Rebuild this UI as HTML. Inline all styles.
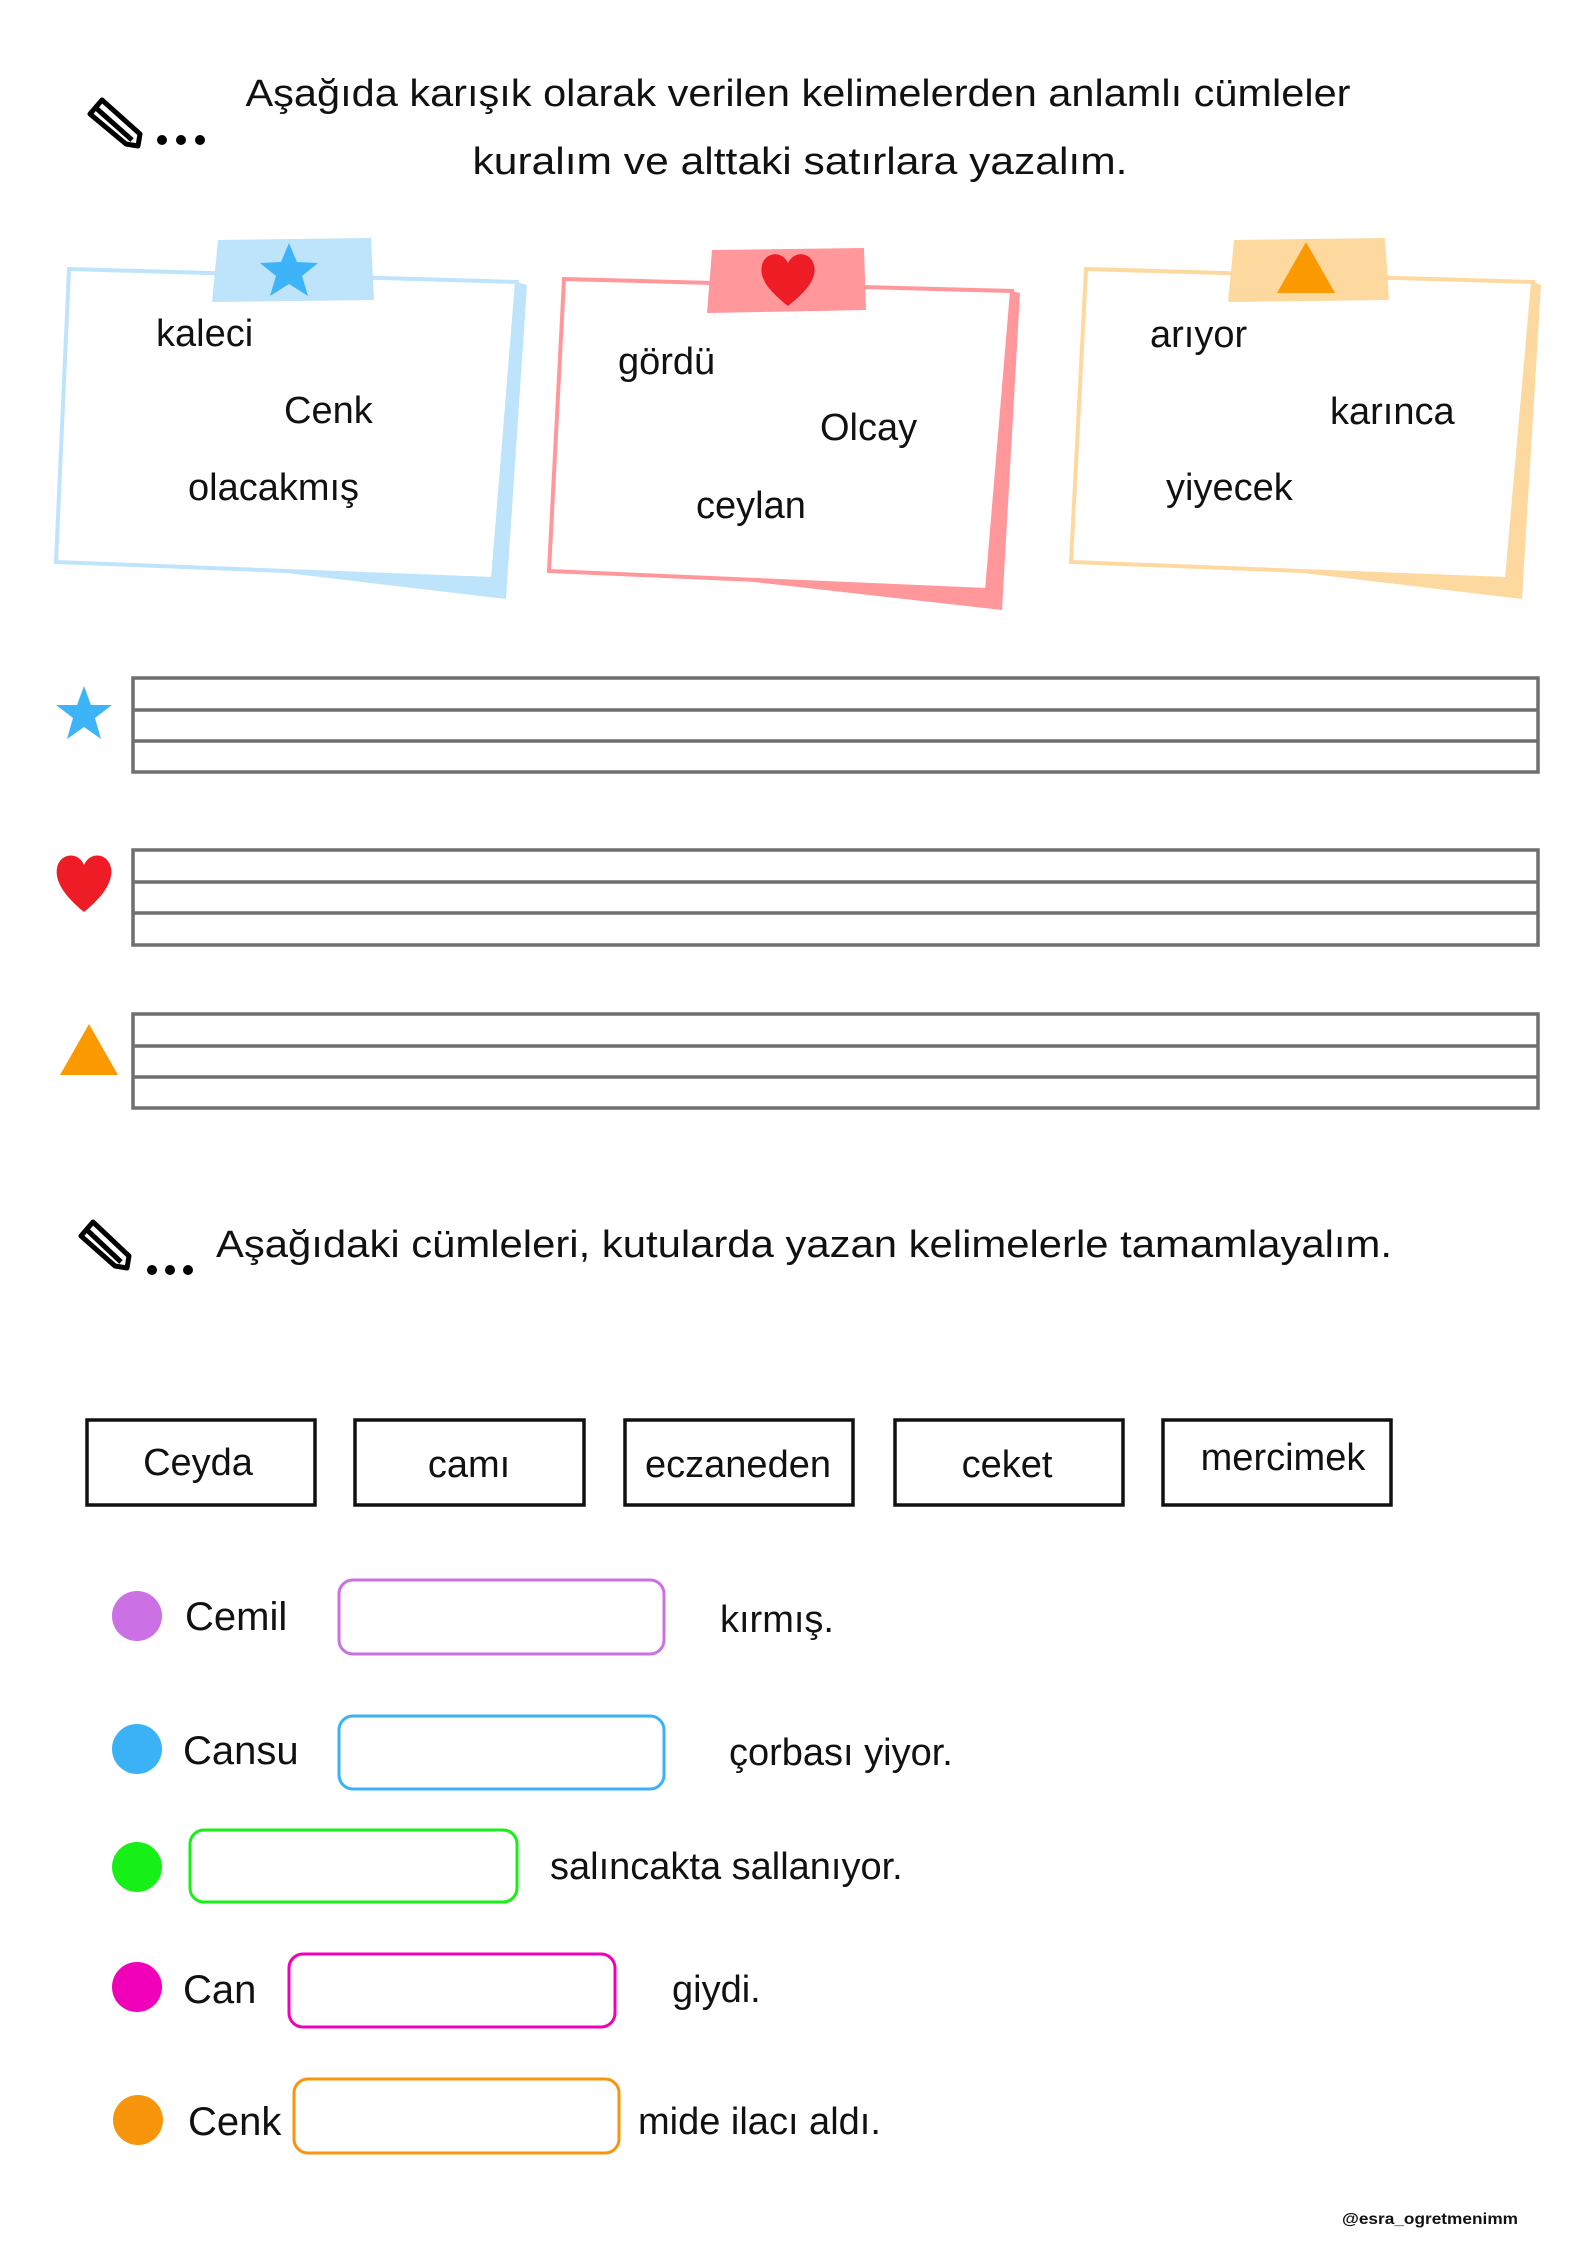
<!DOCTYPE html>
<html><head><meta charset="utf-8"><style>
html,body{margin:0;padding:0;background:#fff;}
svg{display:block;}
text{font-family:"Liberation Sans","DejaVu Sans",sans-serif;fill:#111;}
</style></head><body>
<svg width="1587" height="2245" viewBox="0 0 1587 2245" xmlns="http://www.w3.org/2000/svg">
<!-- pencil icon 1 -->
<g transform="translate(80,92)" fill="none" stroke="#000" stroke-width="5" stroke-linejoin="round">
<path d="M10 22 L22 8 L60 42 L58 54 L46 52 Z"/><path d="M16 16 L52 48"/>
</g>
<circle cx="162" cy="140" r="5"/><circle cx="181" cy="140" r="5"/><circle cx="200" cy="140" r="5"/>
<text x="798" y="106" font-size="38" text-anchor="middle" textLength="1105" lengthAdjust="spacingAndGlyphs">Aşağıda karışık olarak verilen kelimelerden anlamlı cümleler</text>
<text x="800" y="174" font-size="38" text-anchor="middle" textLength="655" lengthAdjust="spacingAndGlyphs">kuralım ve alttaki satırlara yazalım.</text>

<!-- card 1 -->
<polygon points="244,568 493,579 517,282 527,285 506,599" fill="#bde4fb"/>
<polygon points="69,269 517,282 493,579 56,562" fill="none" stroke="#bde4fb" stroke-width="4"/>
<polygon points="218,240 371,238 374,300 212,302" fill="#bde4fb"/>
<polygon points="289,243 297,262 318,263 302,276 308,296 289,284 270,296 276,276 260,263 281,262" fill="#3db4f8"/>
<text x="156" y="346" font-size="38">kaleci</text>
<text x="284" y="423" font-size="38">Cenk</text>
<text x="188" y="500" font-size="38">olacakmış</text>

<!-- card 2 -->
<polygon points="737,580 987,590 1012,291 1020,293 1002,610" fill="#ff979b"/>
<polygon points="564,279 1012,291 987,590 549,571" fill="none" stroke="#ff979b" stroke-width="4"/>
<polygon points="712,250 864,248 866,310 707,313" fill="#ff979b"/>
<path d="M788 306 C768 290 759 278 762 265 C765 252 782 250 788 263 C794 250 811 252 814 265 C817 278 808 290 788 306 Z" fill="#ee1c25"/>
<text x="618" y="374" font-size="38">gördü</text>
<text x="820" y="440" font-size="38">Olcay</text>
<text x="696" y="518" font-size="38">ceylan</text>

<!-- card 3 -->
<polygon points="1261,568 1507,579 1533,282 1541,285 1522,599" fill="#fdd9a0"/>
<polygon points="1086,269 1533,282 1507,579 1071,562" fill="none" stroke="#fdd9a0" stroke-width="4"/>
<polygon points="1234,240 1385,238 1389,300 1228,302" fill="#fdd9a0"/>
<polygon points="1306,242 1335,293 1277,293" fill="#fb9a00"/>
<text x="1150" y="347" font-size="38">arıyor</text>
<text x="1330" y="424" font-size="38">karınca</text>
<text x="1166" y="500" font-size="38">yiyecek</text>

<!-- writing lines -->
<g fill="none" stroke="#6f6f6f" stroke-width="3.5">
<rect x="133" y="678" width="1405" height="94"/><line x1="133" y1="710" x2="1538" y2="710"/><line x1="133" y1="741" x2="1538" y2="741"/>
<rect x="133" y="850" width="1405" height="95"/><line x1="133" y1="882" x2="1538" y2="882"/><line x1="133" y1="913" x2="1538" y2="913"/>
<rect x="133" y="1014" width="1405" height="94"/><line x1="133" y1="1046" x2="1538" y2="1046"/><line x1="133" y1="1077" x2="1538" y2="1077"/>
</g>
<polygon points="84,686 91,705 112,705 95,718 101,739 84,727 67,739 73,718 56,705 77,705" fill="#3db4f8"/>
<path d="M84 912 C62 894 55 880 57 868 C60 853 78 851 84 865 C90 851 108 853 111 868 C113 880 106 894 84 912 Z" fill="#ee1c25"/>
<polygon points="89,1024 118,1075 60,1075" fill="#fb9a00"/>

<!-- pencil icon 2 -->
<g transform="translate(73,1216)" fill="none" stroke="#000" stroke-width="5" stroke-linejoin="round">
<path d="M8 20 L20 6 L56 40 L54 52 L42 50 Z"/><path d="M14 14 L48 46"/>
</g>
<circle cx="152" cy="1270" r="5"/><circle cx="170" cy="1270" r="5"/><circle cx="188" cy="1270" r="5"/>
<text x="216" y="1257" font-size="38" textLength="1176" lengthAdjust="spacingAndGlyphs">Aşağıdaki cümleleri, kutularda yazan kelimelerle tamamlayalım.</text>

<!-- word boxes -->
<g fill="none" stroke="#111" stroke-width="3.5">
<rect x="87" y="1420" width="228" height="85"/>
<rect x="355" y="1420" width="229" height="85"/>
<rect x="625" y="1420" width="228" height="85"/>
<rect x="895" y="1420" width="228" height="85"/>
<rect x="1163" y="1420" width="228" height="85"/>
</g>
<g font-size="38" text-anchor="middle">
<text x="198" y="1475">Ceyda</text>
<text x="469" y="1477">camı</text>
<text x="738" y="1477">eczaneden</text>
<text x="1007" y="1477">ceket</text>
<text x="1283" y="1470">mercimek</text>
</g>

<!-- rows -->
<circle cx="137" cy="1616" r="25" fill="#cc70e6"/>
<text x="185" y="1630" font-size="40">Cemil</text>
<rect x="339" y="1580" width="325" height="74" rx="14" fill="none" stroke="#cc70e6" stroke-width="3"/>
<text x="720" y="1632" font-size="38">kırmış.</text>

<circle cx="137" cy="1749" r="25" fill="#3bb2f5"/>
<text x="183" y="1764" font-size="40">Cansu</text>
<rect x="339" y="1716" width="325" height="73" rx="14" fill="none" stroke="#3bb2f5" stroke-width="3"/>
<text x="729" y="1765" font-size="38">çorbası yiyor.</text>

<circle cx="137" cy="1867" r="25" fill="#17f017"/>
<rect x="190" y="1830" width="327" height="72" rx="14" fill="none" stroke="#17f017" stroke-width="3"/>
<text x="550" y="1879" font-size="38">salıncakta sallanıyor.</text>

<circle cx="137" cy="1987" r="25" fill="#f000b8"/>
<text x="183" y="2003" font-size="40">Can</text>
<rect x="289" y="1954" width="326" height="73" rx="14" fill="none" stroke="#f000b8" stroke-width="3"/>
<text x="672" y="2002" font-size="38">giydi.</text>

<circle cx="138" cy="2120" r="25" fill="#f7960c"/>
<text x="188" y="2135" font-size="40">Cenk</text>
<rect x="294" y="2079" width="325" height="74" rx="14" fill="none" stroke="#f7960c" stroke-width="3"/>
<text x="638" y="2134" font-size="38">mide ilacı aldı.</text>

<text x="1342" y="2224" font-size="16" font-weight="bold" textLength="176" lengthAdjust="spacingAndGlyphs">@esra_ogretmenimm</text>
</svg>
</body></html>
